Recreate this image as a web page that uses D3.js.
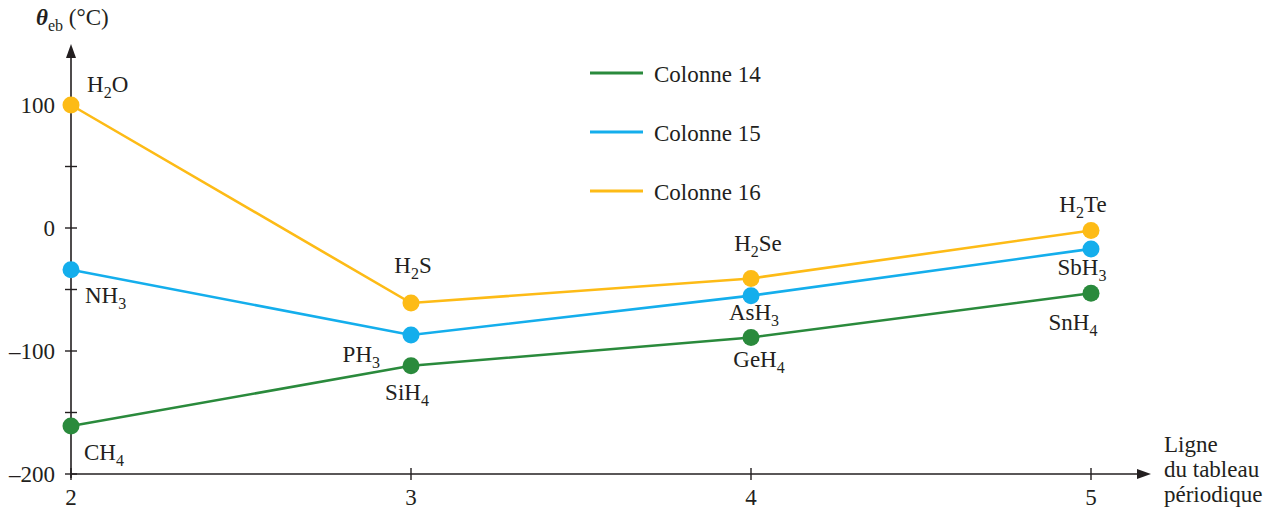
<!DOCTYPE html>
<html>
<head>
<meta charset="utf-8">
<script src="https://cdn.jsdelivr.net/npm/d3@7"></script>
<style>
  body { margin: 0; background: #fff; }
</style>
</head>
<body>
<div id="chart"></div>
<script>
// rows of the periodic table (x) and boiling points (°C)
const rows = [2, 3, 4, 5];
const col14 = [-161, -112, -89, -53];
const col15 = [-34, -87, -55, -17];
const col16 = [100, -61, -41, -2];
const names14 = [["C", "H", "4"], ["Si", "H", "4"], ["Ge", "H", "4"], ["Sn", "H", "4"]];
const names15 = [["N", "H", "3"], ["P", "H", "3"], ["As", "H", "3"], ["Sb", "H", "3"]];
const names16 = [["H", "2", "O"], ["H", "2", "S"], ["H", "2", "Se"], ["H", "2", "Te"]];
const legendNames = ["Colonne 14", "Colonne 15", "Colonne 16"];
const yTickLabels = [100, 0, -100, -200];

const colors = ["#2a8a3c", "#14aeec", "#fdbb16"];
const FS = 23, SUB = 16, SUBDY = 6;

// label placement relative to each point (dx, dy to baseline, anchor)
const labelPos = [
  [[13, 34, "start"], [-4, 34, "middle"], [8, 30, "middle"], [-18, 37, "middle"]],
  [[14, 33, "start"], [-31, 27, "end"], [3, 24, "middle"], [-9, 26, "middle"]],
  [[16, -13, "start"], [2, -30, "middle"], [7, -27, "middle"], [-8, -18, "middle"]]
];

const W = 1275, H = 512;
const svg = d3.select("#chart").append("svg").attr("width", W).attr("height", H)
  .attr("font-family", "'Liberation Serif', 'Times New Roman', serif")
  .attr("fill", "#231f20");

const x = d3.scaleLinear().domain([2, 5]).range([71, 1091]);
const y = d3.scaleLinear().domain([-200, 100]).range([474, 105]);

const axisColor = "#231f20";

// y axis line with arrow
svg.append("line").attr("x1", x(2)).attr("x2", x(2)).attr("y1", y(-200) + 4).attr("y2", 52)
  .attr("stroke", axisColor).attr("stroke-width", 1.6);
svg.append("path").attr("d", `M${x(2)},44 L${x(2) - 5},58 L${x(2) + 5},58 Z`).attr("fill", axisColor);

// x axis line with arrow
svg.append("line").attr("x1", x(2)).attr("x2", 1143).attr("y1", y(-200)).attr("y2", y(-200))
  .attr("stroke", axisColor).attr("stroke-width", 1.6);
svg.append("path").attr("d", `M1151,${y(-200)} L1137,${y(-200) - 5} L1137,${y(-200) + 5} Z`).attr("fill", axisColor);

// y ticks every 50
const yTicks = d3.range(-200, 101, 50);
svg.selectAll(".yt").data(yTicks).enter().append("line")
  .attr("x1", x(2) - 6).attr("x2", x(2) + 6)
  .attr("y1", d => y(d)).attr("y2", d => y(d))
  .attr("stroke", axisColor).attr("stroke-width", 1.4);
svg.selectAll(".yl").data(yTickLabels).enter().append("text")
  .attr("x", 55).attr("y", d => y(d) + 8)
  .attr("text-anchor", "end").attr("font-size", FS)
  .text(d => d < 0 ? "\u2013" + Math.abs(d) : d);

// x ticks
svg.selectAll(".xt").data(rows).enter().append("line")
  .attr("x1", d => x(d)).attr("x2", d => x(d))
  .attr("y1", y(-200) - 6).attr("y2", y(-200) + 6)
  .attr("stroke", axisColor).attr("stroke-width", 1.4);
svg.selectAll(".xl").data(rows).enter().append("text")
  .attr("x", d => x(d)).attr("y", 505)
  .attr("text-anchor", "middle").attr("font-size", FS)
  .text(d => d);

// axis titles
const yTitle = svg.append("text").attr("x", 36).attr("y", 25).attr("font-size", FS);
yTitle.append("tspan").attr("font-style", "italic").attr("font-weight", "bold").text("\u03b8");
yTitle.append("tspan").attr("font-size", SUB).attr("dy", SUBDY).text("eb");
yTitle.append("tspan").attr("dy", -SUBDY).text(" (\u00b0C)");

const xTitle = ["Ligne", "du tableau", "périodique"];
svg.selectAll(".xtit").data(xTitle).enter().append("text")
  .attr("x", 1164).attr("y", (d, i) => 452 + i * 25).attr("font-size", FS)
  .text(d => d);

// series
const series = [col14, col15, col16];
const names = [names14, names15, names16];
const line = d3.line().x((d, i) => x(rows[i])).y(d => y(d));

series.forEach((s, k) => {
  svg.append("path").datum(s).attr("d", line)
    .attr("fill", "none").attr("stroke", colors[k]).attr("stroke-width", 2.6);
});
series.forEach((s, k) => {
  svg.selectAll(".pt" + k).data(s).enter().append("circle")
    .attr("cx", (d, i) => x(rows[i])).attr("cy", d => y(d)).attr("r", 8.5)
    .attr("fill", colors[k]);
});

// chemical formula labels
series.forEach((s, k) => {
  s.forEach((v, i) => {
    const p = labelPos[k][i];
    const parts = names[k][i];
    const t = svg.append("text")
      .attr("x", x(rows[i]) + p[0]).attr("y", y(v) + p[1])
      .attr("text-anchor", p[2]).attr("font-size", FS);
    if (k === 2) {
      t.append("tspan").text(parts[0]);
      t.append("tspan").attr("font-size", SUB).attr("dy", SUBDY).text(parts[1]);
      t.append("tspan").attr("dy", -SUBDY).text(parts[2]);
    } else {
      t.append("tspan").text(parts[0] + parts[1]);
      t.append("tspan").attr("font-size", SUB).attr("dy", SUBDY).text(parts[2]);
    }
  });
});

// legend
legendNames.forEach((n, k) => {
  const ly = 73 + k * 59;
  svg.append("line").attr("x1", 590).attr("x2", 643).attr("y1", ly).attr("y2", ly)
    .attr("stroke", colors[k]).attr("stroke-width", 3);
  svg.append("text").attr("x", 654).attr("y", ly + 9).attr("font-size", FS).text(n);
});
</script>
</body>
</html>
